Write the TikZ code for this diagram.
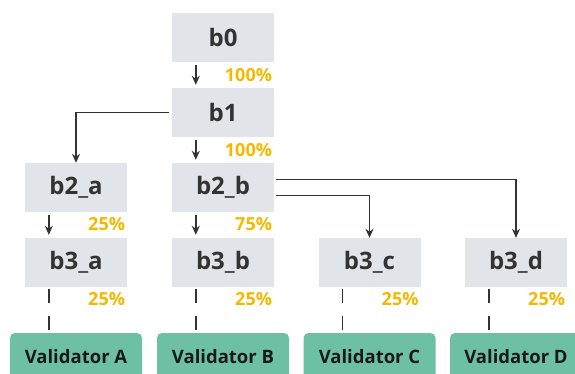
\documentclass[tikz,border=0pt]{standalone}
\usepackage{fontspec}
\setmainfont{Open Sans}
\usetikzlibrary{arrows.meta}
\definecolor{boxgray}{HTML}{E1E4E8}
\definecolor{valgreen}{HTML}{6DC0A4}
\definecolor{pctorange}{HTML}{F5B800}
\definecolor{ink}{HTML}{333333}
\tikzstyle{block} = [rectangle, minimum width=102pt, minimum height=49pt, inner sep=0, fill=boxgray, text=ink, font=\bfseries\fontsize{24}{28}\selectfont]
\tikzstyle{validator} = [rectangle, rounded corners=5pt, minimum width=132pt, minimum height=48pt, inner sep=0, fill=valgreen, text=black!90, font=\bfseries\fontsize{18.5}{22}\selectfont]
\tikzstyle{pct} = [anchor=east, inner sep=0, text=pctorange, font=\bfseries\fontsize{18}{21}\selectfont]
\tikzstyle{arrow} = [ink, line width=1.6pt, -{Stealth[length=9pt,width=8pt]}]
\tikzstyle{tick} = [ink, line width=1.6pt, dash pattern=on 14pt off 13pt]
\begin{document}
\begin{tikzpicture}[x=1pt,y=-1pt]
\useasboundingbox (0,0) rectangle (575,374);
\clip (0,0) rectangle (575,374);
\node[block] (b0) at (223,37.5) {b0};
\node[block] (b1) at (223,112.5) {b1};
\node[block] (b2_a) at (76,187.5) {b2\_a};
\node[block] (b2_b) at (223,187.5) {b2\_b};
\node[block] (b3_a) at (76,262.5) {b3\_a};
\node[block] (b3_b) at (223,262.5) {b3\_b};
\node[block] (b3_c) at (369.5,262.5) {b3\_c};
\node[block] (b3_d) at (516,262.5) {b3\_d};
\node[pct] (p_b0) at ([xshift=-2pt,yshift=-13pt]b0.south east) {100\%};
\node[pct] (p_b1) at ([xshift=-2pt,yshift=-13pt]b1.south east) {100\%};
\node[pct] (p_b2_a) at ([xshift=-2pt,yshift=-12pt]b2_a.south east) {25\%};
\node[pct] (p_b2_b) at ([xshift=-2pt,yshift=-12pt]b2_b.south east) {75\%};
\draw[arrow] ([xshift=24pt,yshift=-3pt]b0.south west) -- ([xshift=24pt,yshift=3pt]b1.north west);
\draw[arrow] ([xshift=24pt,yshift=-3pt]b1.south west) -- ([xshift=24pt,yshift=3pt]b2_b.north west);
\draw[arrow] ([xshift=24pt,yshift=-3pt]b2_a.south west) -- ([xshift=24pt,yshift=3pt]b3_a.north west);
\draw[arrow] ([xshift=24pt,yshift=-3pt]b2_b.south west) -- ([xshift=24pt,yshift=3pt]b3_b.north west);
\draw[arrow, shorten <=3pt] (b1.west) -| (b2_a.north);
\draw[arrow, shorten <=2pt] ([yshift=-8pt]b2_b.east) -| (b3_c.north);
\draw[arrow, shorten <=2pt] ([yshift=8pt]b2_b.east) -| (b3_d.north);
\foreach \c/\v/\x in {a/A/76, b/B/223, c/C/369.5, d/D/516}{
	\node[validator] (val\v) at (\x,357) {Validator \v};
	\node[pct] (p_b3_\c) at ([xshift=-2pt,yshift=-12pt]b3_\c.south east) {25\%};
	\draw[tick] ([xshift=24pt,yshift=-2pt]b3_\c.south west) -- ([xshift=24pt]b3_\c.south west |- val\v.north);
}
\end{tikzpicture}
\end{document}
